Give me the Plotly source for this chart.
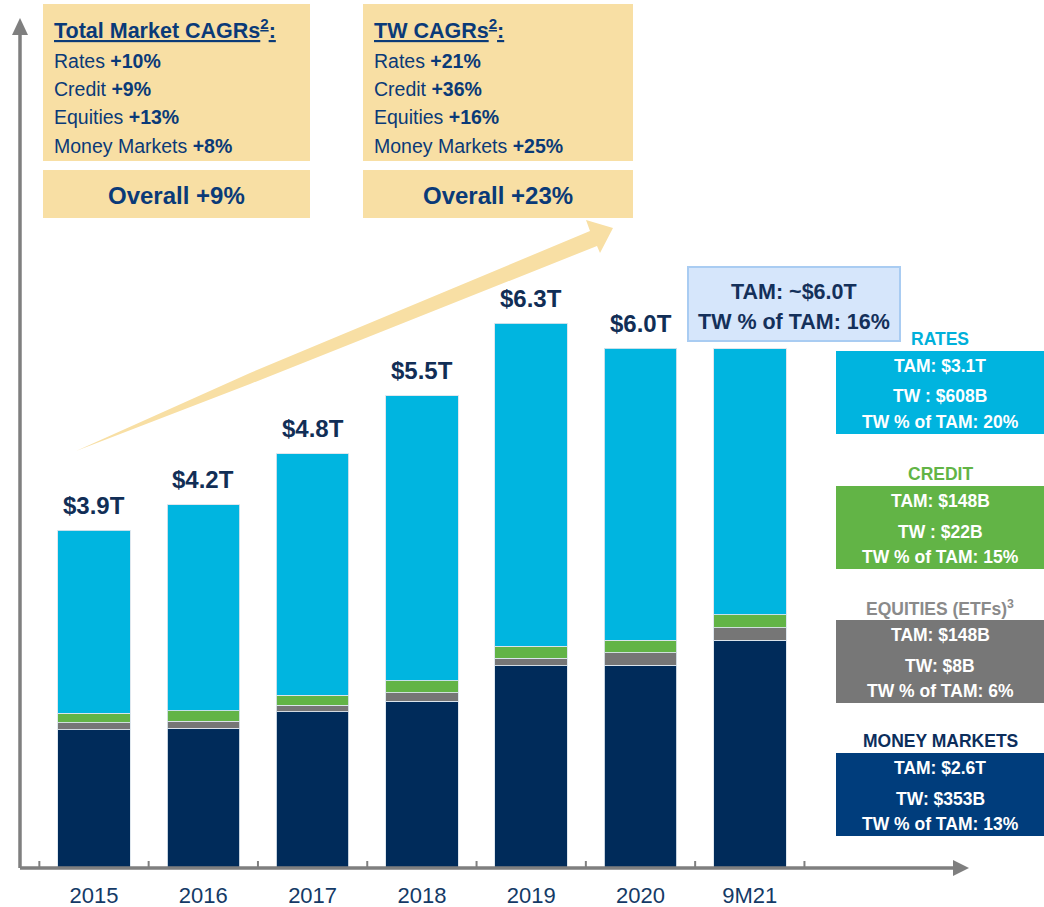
import plotly.graph_objects as go

# ---------------- data ----------------
categories = ["2015", "2016", "2017", "2018", "2019", "2020", "9M21"]
money_markets = [1.59, 1.61, 1.80, 1.92, 2.33, 2.34, 2.63]   # $T
equities = [0.08, 0.08, 0.075, 0.10, 0.09, 0.14, 0.14]
credit = [0.11, 0.12, 0.115, 0.14, 0.14, 0.15, 0.155]
rates = [2.12, 2.39, 2.80, 3.30, 3.74, 3.38, 3.08]
total_labels = ["$3.9T", "$4.2T", "$4.8T", "$5.5T", "$6.3T", "$6.0T", ""]

market_cagr_items = ["Rates", "Credit", "Equities", "Money Markets"]
market_cagr_values = ["+10%", "+9%", "+13%", "+8%"]
market_overall = "+9%"
tw_cagr_values = ["+21%", "+36%", "+16%", "+25%"]
tw_overall = "+23%"

tam_box_lines = ["TAM: ~$6.0T", "TW % of TAM: 16%"]

legend_titles = ["RATES", "CREDIT", "EQUITIES (ETFs)<sup>3</sup>", "MONEY MARKETS"]
legend_lines = [
    ["TAM: $3.1T", "TW : $608B", "TW % of TAM: 20%"],
    ["TAM: $148B", "TW : $22B", "TW % of TAM: 15%"],
    ["TAM: $148B", "TW: $8B", "TW % of TAM: 6%"],
    ["TAM: $2.6T", "TW: $353B", "TW % of TAM: 13%"],
]

# ---------------- style ----------------
C_MM = "#002B5A"
C_EQ = "#767676"
C_CR = "#62B446"
C_RA = "#00B5E0"
C_NAVY_TXT = "#112E56"
C_BOX_TXT = "#0A3A78"
C_YELLOW = "#F8DFA4"
C_AXIS = "#7F7F7F"

W, H = 1044, 907
ML, MR, MT, MB = 20, 75, 18, 40
PW, PH = W - ML - MR, H - MT - MB
CAT_PX = 109.3      # pixels per category
FIRST_PX = 94       # pixel centre of first category
VAL_PX = 86.3       # pixels per $1T

def px(x):
    return (x - ML) / PW

def py(y):
    return (H - MB - y) / PH

SANS = "Liberation Sans, Arial, sans-serif"

xs = list(range(len(categories)))
totals = [m + e + c + r for m, e, c, r in zip(money_markets, equities, credit, rates)]

fig = go.Figure()
for name, vals, col in [("Money Markets", money_markets, C_MM),
                        ("Equities", equities, C_EQ),
                        ("Credit", credit, C_CR),
                        ("Rates", rates, C_RA)]:
    fig.add_trace(go.Bar(x=xs, y=vals, name=name, marker_color=col,
                         marker_line=dict(color="rgba(220,228,236,0.9)", width=1),
                         hoverinfo="skip"))

shapes = []
annotations = []

# value labels above bars
for i, (t, lab) in enumerate(zip(totals, total_labels)):
    if lab:
        annotations.append(dict(x=i, y=t, xref="x", yref="y", text=f"<b>{lab}</b>",
                                showarrow=False, xanchor="center", yanchor="middle",
                                yshift=25,
                                font=dict(family=SANS, size=24, color=C_NAVY_TXT)))

# axes with arrowheads
shapes.append(dict(type="line", xref="paper", yref="paper", x0=px(20), y0=py(868),
                   x1=px(20), y1=py(32), line=dict(color=C_AXIS, width=3.5)))
shapes.append(dict(type="path", xref="paper", yref="paper",
                   path=f"M{px(12)},{py(35)} L{px(28)},{py(35)} L{px(20)},{py(18)} Z",
                   fillcolor=C_AXIS, line=dict(width=0)))
shapes.append(dict(type="line", xref="paper", yref="paper", x0=px(20), y0=py(868),
                   x1=px(955), y1=py(868), line=dict(color=C_AXIS, width=3.5)))
shapes.append(dict(type="path", xref="paper", yref="paper",
                   path=f"M{px(953)},{py(860)} L{px(953)},{py(876)} L{px(969)},{py(868)} Z",
                   fillcolor=C_AXIS, line=dict(width=0)))
# small tick marks at category boundaries
for i in range(len(categories) + 1):
    shapes.append(dict(type="line", xref="x", yref="paper", x0=i - 0.5, x1=i - 0.5,
                       y0=py(867), y1=py(861), line=dict(color=C_AXIS, width=2)))

# growth arrow (wedge)
pts = [(76, 451), (250, 373), (590, 231), (586, 220), (613, 228), (600, 253),
       (597, 246), (250, 384)]
path = "M" + " L".join(f"{px(a)},{py(b)}" for a, b in pts) + " Z"
shapes.append(dict(type="path", xref="paper", yref="paper", path=path,
                   fillcolor=C_YELLOW, line=dict(width=0), layer="above"))

# CAGR boxes
for (x0, x1) in [(43, 310), (363, 633)]:
    shapes.append(dict(type="rect", xref="paper", yref="paper", x0=px(x0), x1=px(x1),
                       y0=py(161), y1=py(4), fillcolor=C_YELLOW, line=dict(width=0)))
    shapes.append(dict(type="rect", xref="paper", yref="paper", x0=px(x0), x1=px(x1),
                       y0=py(218), y1=py(170), fillcolor=C_YELLOW, line=dict(width=0)))

line_ys = [60.5, 89, 117.5, 146]
for (xl, xc, title, vals, overall) in [
        (52, 176.5, "Total Market CAGRs<sup>2</sup>:", market_cagr_values, market_overall),
        (372, 498, "TW CAGRs<sup>2</sup>:", tw_cagr_values, tw_overall)]:
    annotations.append(dict(x=px(xl), y=py(29), xref="paper", yref="paper",
                            text=f"<b><u>{title}</u></b>", showarrow=False,
                            xanchor="left", yanchor="middle",
                            font=dict(family=SANS, size=21.5, color=C_BOX_TXT)))
    for item, v, yy in zip(market_cagr_items, vals, line_ys):
        annotations.append(dict(x=px(xl), y=py(yy), xref="paper", yref="paper",
                                text=f"{item} <b>{v}</b>", showarrow=False,
                                xanchor="left", yanchor="middle",
                                font=dict(family=SANS, size=19.5, color=C_BOX_TXT)))
    annotations.append(dict(x=px(xc), y=py(195), xref="paper", yref="paper",
                            text=f"<b>Overall {overall}</b>", showarrow=False,
                            xanchor="center", yanchor="middle",
                            font=dict(family=SANS, size=24, color=C_BOX_TXT)))

# TAM callout box
shapes.append(dict(type="rect", xref="paper", yref="paper", x0=px(688), x1=px(900),
                   y0=py(341), y1=py(267), fillcolor="#D6E6FB",
                   line=dict(color="#A9CCF2", width=2)))
for txt, yy in zip(tam_box_lines, [292, 322]):
    annotations.append(dict(x=px(794), y=py(yy), xref="paper", yref="paper",
                            text=f"<b>{txt}</b>", showarrow=False,
                            xanchor="center", yanchor="middle",
                            font=dict(family=SANS, size=21.5, color="#14305A")))

# right-hand legend boxes
leg_tops = [351, 486, 620, 753]
leg_box_cols = ["#00B4DF", "#62B446", "#777777", "#003D7C"]
leg_title_cols = ["#00B0DA", "#62B446", "#8A8A8A", "#0C2E5C"]
for title, lines, top, bc, tc in zip(legend_titles, legend_lines, leg_tops,
                                     leg_box_cols, leg_title_cols):
    shapes.append(dict(type="rect", xref="paper", yref="paper", x0=px(836), x1=px(1046),
                       y0=py(top + 83), y1=py(top), fillcolor=bc, line=dict(width=0)))
    annotations.append(dict(x=px(940), y=py(top - 12), xref="paper", yref="paper",
                            text=f"<b>{title}</b>", showarrow=False,
                            xanchor="center", yanchor="middle",
                            font=dict(family=SANS, size=17.5, color=tc)))
    for txt, off in zip(lines, [15, 45.5, 71]):
        annotations.append(dict(x=px(940), y=py(top + off), xref="paper", yref="paper",
                                text=f"<b>{txt}</b>", showarrow=False,
                                xanchor="center", yanchor="middle",
                                font=dict(family=SANS, size=17.5, color="white")))

x0 = -(FIRST_PX - ML) / CAT_PX
fig.update_layout(
    width=W, height=H,
    margin=dict(l=ML, r=MR, t=MT, b=MB),
    plot_bgcolor="white", paper_bgcolor="white",
    barmode="stack", bargap=0.336, showlegend=False,
    shapes=shapes, annotations=annotations,
    xaxis=dict(range=[x0, x0 + PW / CAT_PX], tickmode="array", tickvals=xs,
               ticktext=categories, showgrid=False, zeroline=False, showline=False,
               ticks="", ticklabelstandoff=13, automargin=False,
               tickfont=dict(family=SANS, size=22, color="#143A66"), fixedrange=True),
    yaxis=dict(range=[0, PH / VAL_PX], visible=False, showgrid=False, fixedrange=True,
               automargin=False),
)

fig.write_html("out.html", config={"displayModeBar": False},
               post_script="document.body.style.margin='0';document.body.style.overflow='hidden';")
